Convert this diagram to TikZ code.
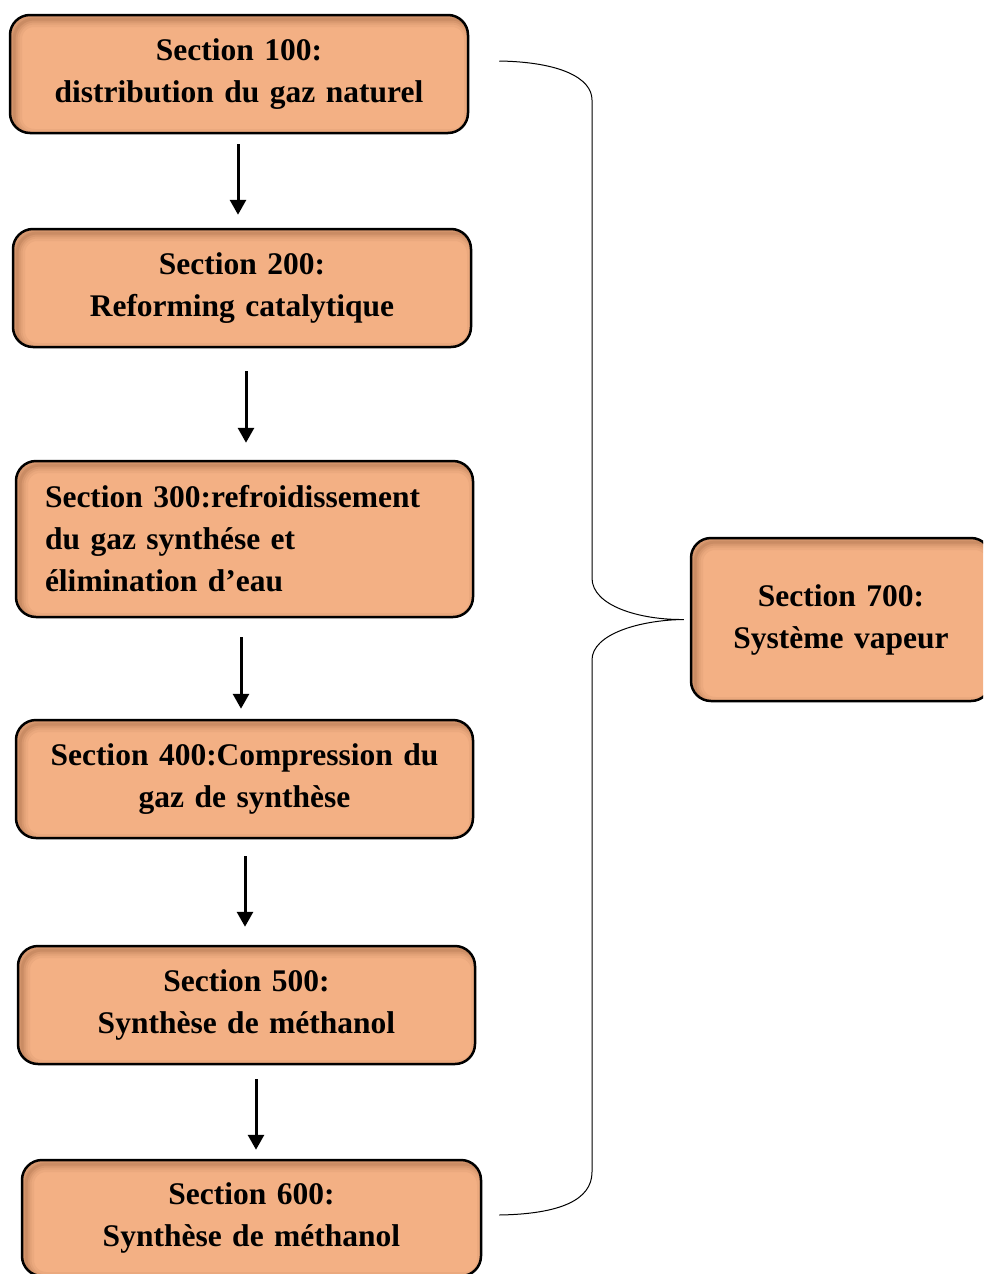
\documentclass[tikz,border=0pt]{standalone}
\usepackage{fontspec}
\setmainfont{Liberation Serif}
\usetikzlibrary{arrows.meta}
\definecolor{boxfill}{RGB}{243,176,132}
\definecolor{shadowc}{RGB}{90,45,15}
\tikzset{
  box/.style={draw=black, line width=2.5pt, fill=boxfill, rounded corners=20pt,
    font=\bfseries\fontsize{31.5}{42}\selectfont, align=center, inner sep=0pt,
    path picture={
      \foreach \w/\o in {16/0.05,11/0.06,7/0.08,3/0.1}{
        \draw[line width=\w pt, draw=shadowc, opacity=\o, rounded corners=20pt]
          ([xshift=4pt,yshift=-4pt]path picture bounding box.north west) rectangle
          ([xshift=4pt,yshift=-4pt]path picture bounding box.south east);}
    }},
  arr/.style={line width=3pt, -{Triangle[length=15pt,width=16pt]}},
  brace/.style={line width=1pt},
}
\begin{document}
\begin{tikzpicture}[x=1pt,y=-1pt]
\useasboundingbox (0,0) rectangle (983,1274);
\clip (0,0) rectangle (983,1274);

\node[box, minimum width=458pt, minimum height=118pt, text width=438pt] (b1) at (239,74)
  {Section 100:\\distribution du gaz naturel};
\node[box, minimum width=458pt, minimum height=118pt, text width=438pt] (b2) at (242,288)
  {Section 200:\\Reforming catalytique};
\node[box, minimum width=457pt, minimum height=156pt, text width=399pt, align=left] (b3) at (244.5,539)
  {Section 300:refroidissement\\du gaz synthése et\\élimination d’eau};
\node[box, minimum width=457pt, minimum height=118pt, text width=438pt] (b4) at (244.5,779)
  {Section 400:Compression du\\gaz de synthèse};
\node[box, minimum width=457pt, minimum height=118pt, text width=438pt] (b5) at (246.5,1005)
  {Section 500:\\Synthèse de méthanol};
\node[box, minimum width=459pt, minimum height=116pt, text width=438pt] (b6) at (251.5,1218)
  {Section 600:\\Synthèse de méthanol};
\node[box, minimum width=300pt, minimum height=163pt, text width=280pt] (b7) at (841,619.5)
  {Section 700:\\Système vapeur};

\draw[arr] ([xshift=-1pt,yshift=-10pt]b1.south) coordinate (a1) -- ([yshift=13pt]a1 |- b2.north);
\draw[arr] ([xshift=4pt,yshift=-23pt]b2.south) coordinate (a2) -- ([yshift=17pt]a2 |- b3.north);
\draw[arr] ([xshift=-3.5pt,yshift=-19pt]b3.south) coordinate (a3) -- ([yshift=10pt]a3 |- b4.north);
\draw[arr] ([xshift=0.5pt,yshift=-17pt]b4.south) coordinate (a4) -- ([yshift=18pt]a4 |- b5.north);
\draw[arr] ([xshift=9.5pt,yshift=-14pt]b5.south) coordinate (a5) -- ([yshift=9pt]a5 |- b6.north);

\coordinate (bt) at ([xshift=30pt]b1.east |- 0,61);
\coordinate (bb) at ([xshift=17pt]b6.east |- 0,1215);
\coordinate (bp) at ([xshift=-6pt]b7.west);
\draw[brace] (bt) .. controls (560,62) and (592,78) .. (592,100) -- (592,578)
  .. controls (592,606) and (640,620) .. (bp)
  .. controls (640,620) and (592,634) .. (592,660) -- (592,1172)
  .. controls (592,1200) and (560,1214) .. (bb);
\end{tikzpicture}
\end{document}
